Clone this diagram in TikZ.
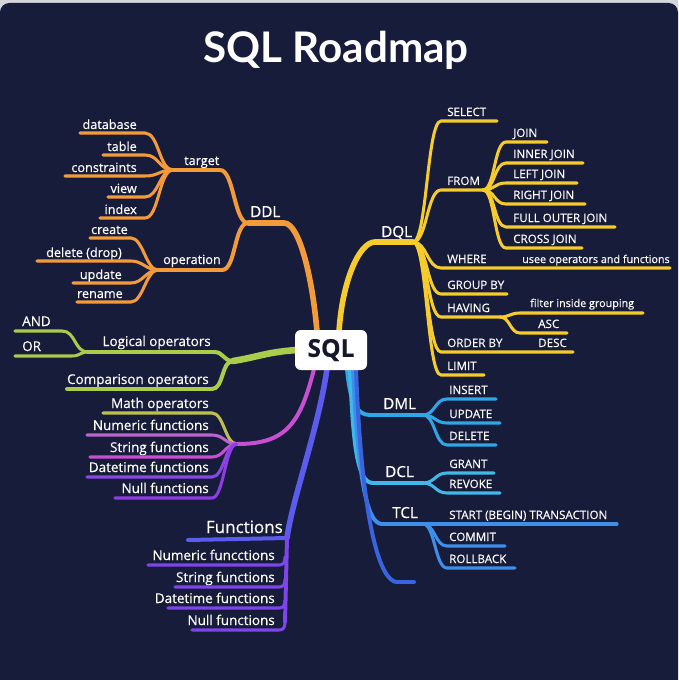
\documentclass[tikz,border=0pt]{standalone}
\usepackage{fontspec}
\setmainfont{Open Sans}[FakeBold=0.35]
\newfontfamily\headfont{Lato}
\usepackage{tikz}
\usetikzlibrary{positioning}
\definecolor{Night}{HTML}{171C3A}
\definecolor{Paper}{HTML}{D4D6DC}
\definecolor{Ink}{HTML}{15182A}
\definecolor{DdlOrange}{HTML}{F39A3A}
\definecolor{DqlYellow}{HTML}{F5CB2E}
\definecolor{OpGreen}{HTML}{A9CC4A}
\definecolor{MathGold}{HTML}{BDBF52}
\definecolor{FnPink}{HTML}{B866CC}
\definecolor{FnMagenta}{HTML}{C94FD2}
\definecolor{FnViolet}{HTML}{8A48E2}
\definecolor{FnPurple}{HTML}{8E3DE6}
\definecolor{FunBlue}{HTML}{5B5CEE}
\definecolor{FunViolet}{HTML}{7E45EA}
\definecolor{DmlBlue}{HTML}{2FA6E6}
\definecolor{DclCyan}{HTML}{40B8EA}
\definecolor{TclBlue}{HTML}{3D8FEA}
\definecolor{DeepBlue}{HTML}{3A63E0}
\tikzset{
  bough/.style={line width=4.8pt, line cap=round},
  twig/.style={line width=3.4pt, line cap=round},
  leafline/.style={line width=2.6pt, line cap=round},
  leaf/.style={text=white, inner sep=0pt, font=\fontsize{10.8}{12}\selectfont},
  opleaf/.style={text=white, inner sep=0pt, font=\fontsize{11.5}{13}\selectfont},
  capleaf/.style={text=white, inner sep=0pt, font=\fontsize{9.9}{11}\selectfont},
  noteleaf/.style={text=white, inner sep=0pt, font=\fontsize{9.2}{11}\selectfont},
  branch/.style={text=white, inner sep=0pt, font=\fontsize{13}{14}\selectfont},
  sqlbox/.style={fill=white, rounded corners=5pt, minimum width=2.16cm, minimum height=1.2cm,
    inner sep=0pt, text=Ink, font=\fontsize{21}{23}\selectfont\bfseries},
  headline/.style={text=white, inner sep=0pt, font=\headfont\fontsize{36}{40}\selectfont\bfseries},
}

\begin{document}
\begin{tikzpicture}[x=0.03cm, y=-0.03cm]
  \useasboundingbox (0,0) rectangle (678,680);
  \fill[Paper] (0,0) rectangle (678,680);
  \fill[Night, rounded corners=8pt] (0,3) rectangle (678,700);

  \node[headline, anchor=base] (title) at (336,63) {SQL Roadmap};

  % attach points on the SQL box
  \coordinate (sql-ddl) at (317,332);
  \coordinate (sql-dql) at (339,332);
  \coordinate (sql-ops) at (297,350);
  \coordinate (sql-fn) at (314,369);
  \coordinate (sql-fun) at (327,369);
  \coordinate (sql-dml) at (347,369);
  \coordinate (sql-dcl) at (350,369);
  \coordinate (sql-tcl) at (353,369);
  \coordinate (sql-end) at (356,369);

  % DDL
  \coordinate (ddl-l) at (248,223);
  \coordinate (ddl-r) at (284,223);
  \node[branch, anchor=base west] (ddl) at (250,217) {DDL};
  \draw[bough, DdlOrange] (sql-ddl) .. controls +(-4,-50) and +(16,0) .. (ddl-r) -- (ddl-l);

  \coordinate (tgt-l) at (173,170);
  \coordinate (tgt-r) at (220,170);
  \node[leaf, anchor=base west] (target) at (184,165) {target};
  \draw[twig, DdlOrange] (ddl-l) .. controls +(-14,0) and +(14,0) .. (tgt-r) -- (tgt-l);

  \coordinate (op-l) at (158,270);
  \coordinate (op-r) at (222,270);
  \node[leaf, anchor=base west] (operation) at (163,264) {operation};
  \draw[twig, DdlOrange] (ddl-l) .. controls +(-14,0) and +(14,0) .. (op-r) -- (op-l);

  \foreach \nm/\lbl/\yy/\xl in {db/database/133/80, tab/table/155/103, cons/constraints/176/65,
      view/view/197/108, idx/index/218/100}{
    \coordinate (tgt-\nm-l) at (\xl,\yy);
    \coordinate (tgt-\nm-r) at (145,\yy);
    \node[leaf, anchor=base east] (tgt-\nm) at (137,\yy-4) {\lbl};
    \draw[leafline, DdlOrange] (tgt-l) .. controls +(-14,0) and +(14,0) .. (tgt-\nm-r) -- (tgt-\nm-l);
  }
  \foreach \nm/\lbl/\yy/\xl/\tx in {new/create/238/90/128, drop/delete (drop)/261/37/122,
      upd/update/283/73/122, ren/rename/302/77/123}{
    \coordinate (op-\nm-l) at (\xl,\yy);
    \coordinate (op-\nm-r) at (131,\yy);
    \node[leaf, anchor=base east] (op-\nm) at (\tx,\yy-4) {\lbl};
    \draw[leafline, DdlOrange] (op-l) .. controls +(-12,0) and +(12,0) .. (op-\nm-r) -- (op-\nm-l);
  }

  % DQL
  \coordinate (dql-l) at (375,242);
  \coordinate (dql-r) at (413,242);
  \node[branch, anchor=base west] (dql) at (381,237) {DQL};
  \draw[bough, DqlYellow] (sql-dql) .. controls +(3,-50) and +(-16,0) .. (dql-l) -- (dql-r);

  \foreach \nm/\lbl/\yy/\xr in {select/SELECT/121/497, from/FROM/190/483, where/WHERE/268/670,
      group/GROUP BY/294/507, having/HAVING/317/500, order/ORDER BY/352/573, limit/LIMIT/375/484}{
    \coordinate (dql-\nm-l) at (441,\yy);
    \coordinate (dql-\nm-r) at (\xr,\yy);
    \node[capleaf, anchor=base west] (dql-\nm) at (447,\yy-5) {\lbl};
    \draw[leafline, DqlYellow] (dql-r) .. controls +(14,0) and +(-14,0) .. (dql-\nm-l) -- (dql-\nm-r);
  }
  \node[noteleaf, anchor=base west] (where-note) at (522,263) {usee operators and functions};

  \foreach \nm/\lbl/\yy/\xr in {join/JOIN/142/547, inner/INNER JOIN/163/583, left/LEFT JOIN/183/577,
      right/RIGHT JOIN/204/585, full/FULL OUTER JOIN/227/615, cross/CROSS JOIN/248/582}{
    \coordinate (join-\nm-l) at (506,\yy);
    \coordinate (join-\nm-r) at (\xr,\yy);
    \node[capleaf, anchor=base west] (join-\nm) at (513,\yy-5) {\lbl};
    \draw[leafline, DqlYellow] (dql-from-r) .. controls +(12,0) and +(-12,0) .. (join-\nm-l) -- (join-\nm-r);
  }

  \coordinate (hav-f-l) at (520,313);
  \coordinate (hav-f-r) at (643,313);
  \coordinate (hav-a-l) at (520,333);
  \coordinate (hav-a-r) at (567,333);
  \node[noteleaf, anchor=base west] (hav-f) at (530,307) {filter inside grouping};
  \node[capleaf, anchor=base west] (hav-a) at (538,328) {ASC};
  \node[capleaf, anchor=base west] (ord-d) at (538,347) {DESC};
  \draw[leafline, DqlYellow] (dql-having-r) .. controls +(10,0) and +(-10,0) .. (hav-f-l) -- (hav-f-r);
  \draw[leafline, DqlYellow] (dql-having-r) .. controls +(10,0) and +(-10,0) .. (hav-a-l) -- (hav-a-r);

  % DML, DCL, TCL
  \coordinate (dml-l) at (370,415);
  \coordinate (dml-r) at (423,415);
  \node[branch, anchor=base west] (dml) at (383,409) {DML};
  \draw[twig, DmlBlue] (sql-dml) .. controls +(3,32) and +(-14,0) .. (dml-l) -- (dml-r);
  \foreach \nm/\lbl/\yy/\xr in {ins/INSERT/399/496, upd/UPDATE/423/500, del/DELETE/445/496}{
    \coordinate (dml-\nm-l) at (447,\yy);
    \coordinate (dml-\nm-r) at (\xr,\yy);
    \node[capleaf, anchor=base west] (dml-\nm) at (449,\yy-5) {\lbl};
    \draw[leafline, DmlBlue] (dml-r) .. controls +(12,0) and +(-12,0) .. (dml-\nm-l) -- (dml-\nm-r);
  }

  \coordinate (dcl-l) at (373,483);
  \coordinate (dcl-r) at (423,483);
  \node[branch, anchor=base west] (dcl) at (385,477) {DCL};
  \draw[twig, DclCyan] (sql-dcl) .. controls +(3,75) and +(-16,0) .. (dcl-l) -- (dcl-r);
  \foreach \nm/\lbl/\yy/\xr in {grant/GRANT/473/494, revoke/REVOKE/493/500}{
    \coordinate (dcl-\nm-l) at (447,\yy);
    \coordinate (dcl-\nm-r) at (\xr,\yy);
    \node[capleaf, anchor=base west] (dcl-\nm) at (449,\yy-5) {\lbl};
    \draw[leafline, DclCyan] (dcl-r) .. controls +(12,0) and +(-12,0) .. (dcl-\nm-l) -- (dcl-\nm-r);
  }

  \coordinate (tcl-l) at (382,524);
  \coordinate (tcl-r) at (423,524);
  \node[branch, anchor=base west] (tcl) at (392,518) {TCL};
  \draw[twig, TclBlue] (sql-tcl) .. controls +(5,105) and +(-16,0) .. (tcl-l) -- (tcl-r);
  \foreach \nm/\lbl/\yy/\xr in {start/START (BEGIN) TRANSACTION/524/617, commit/COMMIT/546/505,
      back/ROLLBACK/568/515}{
    \coordinate (tcl-\nm-l) at (447,\yy);
    \coordinate (tcl-\nm-r) at (\xr,\yy);
    \node[capleaf, anchor=base west] (tcl-\nm) at (449,\yy-5) {\lbl};
    \draw[leafline, TclBlue] (tcl-r) .. controls +(12,0) and +(-12,0) .. (tcl-\nm-l) -- (tcl-\nm-r);
  }

  \coordinate (end-l) at (397,582);
  \coordinate (end-r) at (414,582);
  \draw[twig, DeepBlue] (sql-end) .. controls +(6,160) and +(-16,0) .. (end-l) -- (end-r);

  % operators
  \coordinate (ops-j) at (233,361);
  \draw[bough, OpGreen, line width=5.6pt] (sql-ops) .. controls +(-30,2) and +(25,-4) .. (ops-j);

  \coordinate (log-l) at (88,352);
  \coordinate (log-r) at (214,352);
  \node[opleaf, anchor=base east] (logical) at (211,346) {Logical operators};
  \draw[twig, OpGreen] (ops-j) .. controls +(-10,0) and +(10,0) .. (log-r) -- (log-l);

  \coordinate (cmp-l) at (67,389);
  \coordinate (cmp-r) at (212,389);
  \node[opleaf, anchor=base east] (compare) at (209,384) {Comparison operators};
  \draw[twig, OpGreen] (ops-j) .. controls +(-12,0) and +(12,0) .. (cmp-r) -- (cmp-l);

  \coordinate (and-l) at (15,331);
  \coordinate (and-r) at (62,331);
  \coordinate (or-l) at (15,356);
  \coordinate (or-r) at (72,356);
  \node[opleaf, anchor=base west] (and) at (22,326) {AND};
  \node[opleaf, anchor=base west] (or) at (22,351) {OR};
  \draw[leafline, OpGreen] (log-l) .. controls +(-14,0) and +(14,0) .. (and-r) -- (and-l);
  \draw[leafline, OpGreen] (log-l) .. controls +(-8,0) and +(8,0) .. (or-r) -- (or-l);

  % functions (magenta fan)
  \coordinate (fn-j) at (237,444);
  \draw[twig, FnMagenta] (sql-fn) .. controls (300,425) and (285,444) .. (fn-j);
  \foreach \nm/\lbl/\yy/\xl/\cc in {math/Math operators/413/103/MathGold, num/Numeric functions/435/87/FnPink,
      str/String functions/457/90/FnMagenta, date/Datetime functions/477/87/FnViolet,
      null/Null functions/498/115/FnPurple}{
    \coordinate (fn-\nm-l) at (\xl,\yy);
    \coordinate (fn-\nm-r) at (212,\yy);
    \node[opleaf, anchor=base east] (fn-\nm) at (209,\yy-5) {\lbl};
    \draw[leafline, color=\cc] (fn-j) .. controls +(-12,0) and +(12,0) .. (fn-\nm-r) -- (fn-\nm-l);
  }

  % Functions (violet trunk)
  \coordinate (fun-r) at (287,538);
  \coordinate (fun-l) at (188,540);
  \coordinate (fun-b) at (285,622);
  \node[branch, anchor=base east, font=\fontsize{14.5}{16}\selectfont] (functions) at (283,533) {Functions};
  \draw[bough, FunBlue] (sql-fun) .. controls (318,430) and (292,500) .. (fun-r);
  \draw[twig, FunBlue] (fun-r) -- (fun-l);
  \draw[twig, FunViolet] (fun-r) -- (fun-b);
  \foreach \nm/\lbl/\yy/\xl in {num/Numeric funcctions/565/148, str/String functions/587/175,
      date/Datetime functions/608/168, null/Null functions/630/192}{
    \coordinate (fun-\nm-l) at (\xl,\yy);
    \coordinate (fun-\nm-r) at (279,\yy);
    \coordinate (fun-\nm-t) at (285,\yy-8);
    \node[opleaf, anchor=base east] (fun-\nm) at (275,\yy-5) {\lbl};
    \draw[leafline, FunViolet] (fun-\nm-t) .. controls +(0,6) and +(4,0) .. (fun-\nm-r) -- (fun-\nm-l);
  }

  % SQL box on top
  \node[sqlbox] (sql) at (331,350) {SQL};
\end{tikzpicture}
\end{document}
